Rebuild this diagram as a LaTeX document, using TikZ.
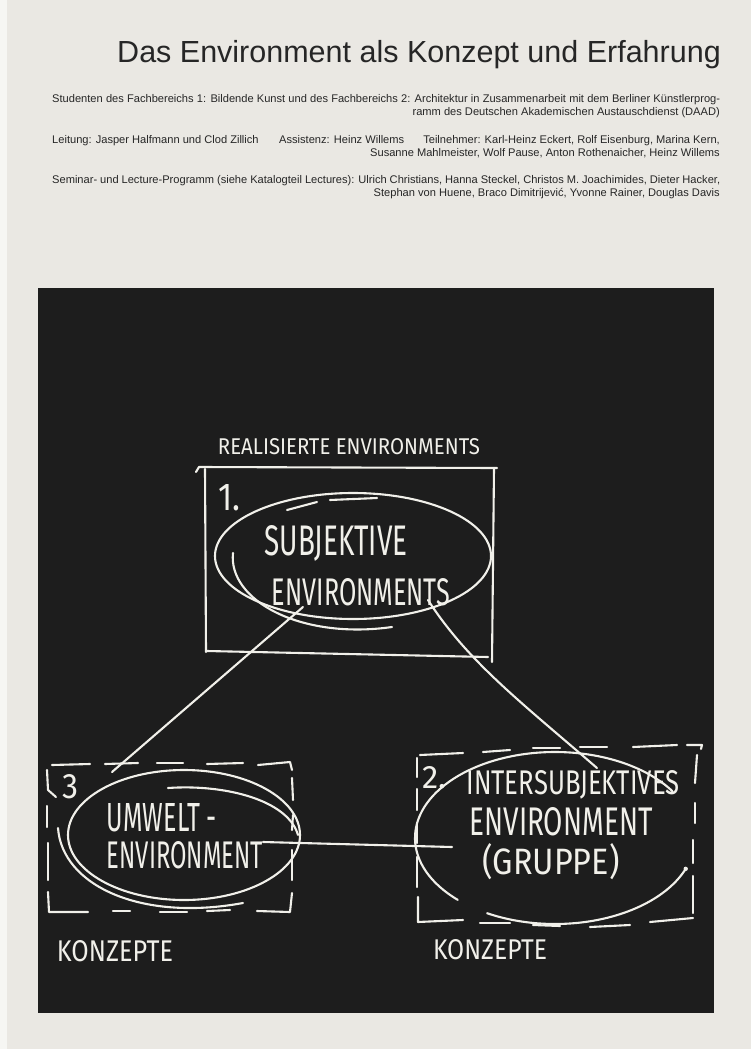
\documentclass[tikz,border=0pt]{standalone}
\usepackage{fontspec}
\setmainfont{Liberation Sans}
\newfontfamily\handfont{Fira Sans}
\usetikzlibrary{shapes.geometric}

\definecolor{paper}{HTML}{EAE8E3}
\definecolor{paperedge}{HTML}{F6F6F3}
\definecolor{board}{HTML}{1D1D1D}
\definecolor{chalk}{HTML}{F1F0EA}
\definecolor{ink}{HTML}{262626}

% hand lettering squeezed into a given width and cap height
\newcommand\handtext[3]{\resizebox{#1pt}{#2pt}{\handfont #3}}

\begin{document}
\begin{tikzpicture}[x=1pt,y=-1pt,
  pen/.style={draw=chalk, line width=2.1pt, line cap=round, line join=round},
  hand/.style={text=chalk, inner sep=0pt, anchor=center},
  head/.style={text=ink, inner sep=0pt, font=\fontsize{11.1}{13}\selectfont}]

\useasboundingbox (0,0) rectangle (751,1049);
\fill[paper] (0,0) rectangle (751,1049);
\fill[paperedge] (0,0) rectangle (7,1049);

% ---- heading ----
\node[text=ink, inner sep=0pt, anchor=base east, font=\fontsize{30.5}{36}\selectfont]
  (title) at (721,63) {Das Environment als Konzept und Erfahrung};

\node[head, anchor=base west] (line1) at (52,102)
  {\makebox[668pt][s]{Studenten des Fachbereichs 1: Bildende Kunst und des Fachbereichs 2: Architektur in Zusammenarbeit mit dem Berliner Künstlerprog-}};
\node[head, anchor=base east] (line2) at (720,115)
  {ramm des Deutschen Akademischen Austauschdienst (DAAD)};
\node[head, anchor=base west] (lead) at (52,143) {Leitung: Jasper Halfmann und Clod Zillich};
\node[head, anchor=base west] (assist) at (279,143) {Assistenz: Heinz Willems};
\node[head, anchor=base east] (members) at (720,143)
  {Teilnehmer: Karl-Heinz Eckert, Rolf Eisenburg, Marina Kern,};
\node[head, anchor=base east] (members2) at (720,156)
  {Susanne Mahlmeister, Wolf Pause, Anton Rothenaicher, Heinz Willems};
\node[head, anchor=base west] (line5) at (52,183)
  {\makebox[668pt][s]{Seminar- und Lecture-Programm (siehe Katalogteil Lectures): Ulrich Christians, Hanna Steckel, Christos M. Joachimides, Dieter Hacker,}};
\node[head, anchor=base east] (line6) at (720,196)
  {Stephan von Huene, Braco Dimitrijević, Yvonne Rainer, Douglas Davis};

% ---- blackboard ----
\fill[board] (38,288) rectangle (714,1013);

% box 1: realised environments (solid, hand drawn)
\node[hand] (realised) at (349,447) {\handtext{262}{16}{REALISIERTE ENVIRONMENTS}};
\draw[pen] (196,472) -- (199,467) -- (497,468);
\draw[pen] (205,469) -- (206,652);
\draw[pen] (207,651) -- (488,657);
\draw[pen] (494,468) -- (492,662);
\node[hand] (n1) at (229,498) {\handtext{22}{26}{1.}};

\coordinate (c1) at (353,556);
\draw[pen] (c1) ellipse[x radius=138, y radius=63];
\draw[pen] (233,553) .. controls (228,600) and (300,640) .. (392,627);
\draw[pen] (287,510) -- (317,502);
\draw[pen] (330,500) -- (377,498);
\node[hand] (subj1) at (336,543) {\handtext{143}{30}{SUBJEKTIVE}};
\node[hand] (subj2) at (361,592) {\handtext{178}{27}{ENVIRONMENTS}};

% box 3: surrounding environment (dashed)
\draw[pen] (52,765) -- (90,764);
\draw[pen] (105,764) -- (138,763);
\draw[pen] (157,763) -- (183,763);
\draw[pen] (207,764) -- (243,763);
\draw[pen] (258,765) -- (290,762) -- (292,770);
\draw[pen] (47,770) -- (48,790) -- (56,797);
\draw[pen] (47,806) -- (47,827);
\draw[pen] (48,843) -- (48,880);
\draw[pen] (48,892) -- (49,912) -- (88,912);
\draw[pen] (113,911) -- (130,911);
\draw[pen] (160,912) -- (187,912);
\draw[pen] (207,911) -- (230,910);
\draw[pen] (257,911) -- (290,912) -- (292,893);
\draw[pen] (292,778) -- (293,800);
\draw[pen] (293,815) -- (292,830);
\draw[pen] (292,850) -- (292,880);
\node[hand] (n3) at (71,787) {\handtext{16}{24}{3}};

\coordinate (c3) at (184,835);
\draw[pen] (c3) ellipse[x radius=116, y radius=65];
\draw[pen] (58,828) .. controls (62,885) and (140,922) .. (243,903);
\draw[pen] (168,788) .. controls (225,784) and (288,800) .. (298,835);
\node[hand] (env3a) at (162,818) {\handtext{110}{28}{UMWELT -}};
\node[hand] (env3b) at (185,855) {\handtext{156}{27}{ENVIRONMENT}};
\node[hand] (concept3) at (115,951) {\handtext{116}{21}{KONZEPTE}};

% box 2: intersubjective environment (dashed)
\draw[pen] (420,755) -- (463,753);
\draw[pen] (483,752) -- (510,750);
\draw[pen] (533,748) -- (560,748);
\draw[pen] (580,747) -- (607,747);
\draw[pen] (633,747) -- (677,745);
\draw[pen] (687,745) -- (702,745) -- (701,749);
\draw[pen] (417,758) -- (417,777);
\draw[pen] (417,789) -- (417,810);
\draw[pen] (417,823) -- (417,843);
\draw[pen] (417,857) -- (417,887);
\draw[pen] (418,897) -- (418,922) -- (463,920);
\draw[pen] (480,923) -- (510,923);
\draw[pen] (533,925) -- (560,926);
\draw[pen] (590,927) -- (630,925);
\draw[pen] (650,922) -- (693,918);
\draw[pen] (697,755) -- (695,783);
\draw[pen] (695,803) -- (695,823);
\draw[pen] (693,840) -- (693,863);
\draw[pen] (693,876) -- (693,913);
\node[hand] (n2) at (434,778) {\handtext{24}{22}{2.}};

\coordinate (c2) at (555,838);
\draw[pen] ([shift={(134:140 and 86)}]c2) arc[start angle=134, end angle=327, x radius=140, y radius=86];
\draw[pen] ([shift={(21:140 and 86)}]c2) arc[start angle=21, end angle=119, x radius=140, y radius=86];
\fill[chalk] ([shift={(21:140 and 86)}]c2) circle[radius=2.2];
\node[hand] (env2a) at (573,785) {\handtext{213}{24}{INTERSUBJEKTIVES}};
\node[hand] (env2b) at (561,822) {\handtext{183}{28}{ENVIRONMENT}};
\node[hand] (env2c) at (551,862) {\handtext{137}{31}{(GRUPPE)}};
\node[hand] (concept2) at (490,950) {\handtext{114}{20}{KONZEPTE}};

% connecting strokes between the three environments
\coordinate (sFrom) at (303,607);
\coordinate (sTo) at (112,772);
\draw[pen] (sFrom) -- (sTo);
\coordinate (iFrom) at (428,600);
\coordinate (iTo) at (597,768);
\draw[pen] (iFrom) .. controls (468,662) and (522,703) .. (iTo);
\coordinate (uFrom) at (263,842);
\coordinate (uTo) at (452,847);
\draw[pen] (uFrom) -- (uTo);
\end{tikzpicture}
\end{document}
